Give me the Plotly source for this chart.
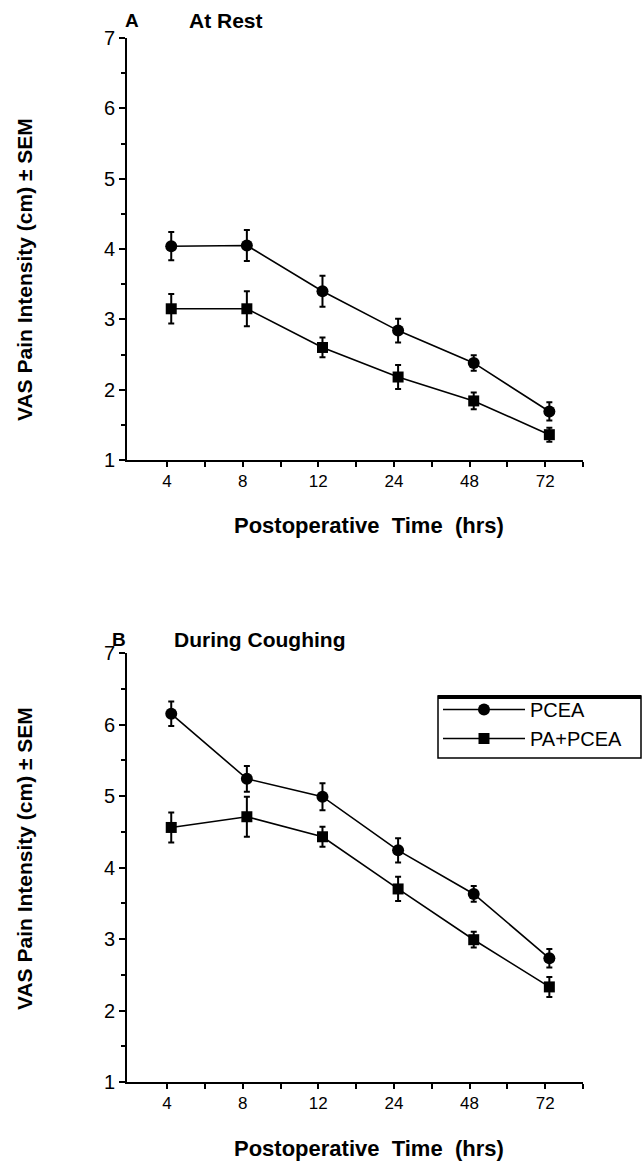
import plotly.graph_objects as go

# ---------------- data ----------------
categories = ["4", "8", "12", "24", "48", "72"]

rest_pcea = [4.04, 4.05, 3.40, 2.84, 2.38, 1.69]
rest_pcea_sem = [0.20, 0.22, 0.22, 0.17, 0.11, 0.13]
rest_pa = [3.15, 3.15, 2.60, 2.18, 1.84, 1.36]
rest_pa_sem = [0.21, 0.25, 0.14, 0.17, 0.12, 0.10]

cough_pcea = [6.15, 5.24, 4.99, 4.24, 3.63, 2.73]
cough_pcea_sem = [0.17, 0.18, 0.19, 0.17, 0.11, 0.13]
cough_pa = [4.56, 4.71, 4.43, 3.70, 2.99, 2.33]
cough_pa_sem = [0.21, 0.28, 0.14, 0.17, 0.11, 0.14]

y_ticks = [1, 2, 3, 4, 5, 6, 7]

# ---------------- layout geometry ----------------
W, H = 642, 1161
ML, MR, MT, MB = 127, 59, 38, 79
PW = W - ML - MR
PH = H - MT - MB


def px_x(px):
    return (px - ML) / PW


def px_y(py):
    return (H - MB - py) / PH


FONT = "Liberation Sans, Arial, Helvetica, sans-serif"
xpos = list(range(len(categories)))
tick_shift = -0.055

fig = go.Figure()


def add_series(y, err, symbol, size, name, xa, ya, show):
    fig.add_trace(go.Scatter(
        x=xpos, y=y, mode="lines+markers", name=name,
        xaxis=xa, yaxis=ya, showlegend=show,
        line=dict(color="black", width=1.6),
        marker=dict(symbol=symbol, size=size, color="black"),
        error_y=dict(type="data", array=err, visible=True,
                     color="black", thickness=2, width=3),
    ))


add_series(rest_pcea, rest_pcea_sem, "circle", 12, "PCEA", "x", "y", False)
add_series(rest_pa, rest_pa_sem, "square", 11, "PA+PCEA", "x", "y", False)
add_series(cough_pcea, cough_pcea_sem, "circle", 12, "PCEA", "x2", "y2", True)
add_series(cough_pa, cough_pa_sem, "square", 11, "PA+PCEA", "x2", "y2", True)

xaxis_common = dict(
    range=[-0.585, 5.445],
    tickmode="array",
    tickvals=[i + tick_shift for i in xpos],
    ticktext=categories,
    ticks="outside", ticklen=5, tickwidth=1.5, tickcolor="black",
    minor=dict(tickmode="array",
               tickvals=[i + 0.5 + tick_shift for i in xpos],
               ticks="outside", ticklen=5, tickwidth=1.5, tickcolor="black"),
    showline=True, linecolor="black", linewidth=2,
    showgrid=False, zeroline=False,
    tickfont=dict(family=FONT, size=17, color="black"),
    domain=[0, 1],
)
yaxis_common = dict(
    range=[1, 7],
    tickmode="array", tickvals=y_ticks,
    ticks="outside", ticklen=6, tickwidth=1.5, tickcolor="black",
    minor=dict(dtick=0.5, tick0=1, ticks="outside", ticklen=4,
               tickwidth=1.5, tickcolor="black"),
    showline=True, linecolor="black", linewidth=2,
    showgrid=False, zeroline=False,
    tickfont=dict(family=FONT, size=20, color="black"),
)

top_domain = [px_y(460), px_y(38)]
bot_domain = [px_y(1082), px_y(653)]

fig.update_layout(
    width=W, height=H,
    margin=dict(l=ML, r=MR, t=MT, b=MB, pad=0),
    paper_bgcolor="white", plot_bgcolor="white",
    xaxis=dict(xaxis_common, anchor="y"),
    yaxis=dict(yaxis_common, anchor="x", domain=top_domain),
    xaxis2=dict(xaxis_common, anchor="y2"),
    yaxis2=dict(yaxis_common, anchor="x2", domain=bot_domain),
    legend=dict(
        x=px_x(438), y=px_y(690), xanchor="left", yanchor="top",
        borderwidth=0, bgcolor="rgba(0,0,0,0)",
        font=dict(family=FONT, size=20, color="black"),
        tracegroupgap=0, itemwidth=82,
    ),
    showlegend=True,
)

ann = []


def text(x, y, s, size, xanchor="center", angle=0):
    ann.append(dict(
        x=px_x(x), y=px_y(y), xref="paper", yref="paper",
        text=s, showarrow=False, xanchor=xanchor, yanchor="middle",
        textangle=angle, font=dict(family=FONT, size=size, color="black"),
    ))


text(132, 21, "<b>A</b>", 19)
text(187, 21, "<b>At Rest</b>", 21, xanchor="left")
text(119, 639, "<b>B</b>", 19)
text(172, 639, "<b>During Coughing</b>", 21, xanchor="left")
text(369, 525, "<b>Postoperative  Time  (hrs)</b>", 22)
text(369, 1148, "<b>Postoperative  Time  (hrs)</b>", 22)
text(24, 270, "<b>VAS Pain Intensity (cm) ± SEM</b>", 21, angle=-90)
text(24, 859, "<b>VAS Pain Intensity (cm) ± SEM</b>", 21, angle=-90)
fig.update_layout(annotations=ann)

# legend frame: thin box with heavy top edge
fig.add_shape(type="rect", xref="paper", yref="paper",
              x0=px_x(438), x1=px_x(641), y0=px_y(758), y1=px_y(696),
              line=dict(color="black", width=1.5), layer="below")
fig.add_shape(type="line", xref="paper", yref="paper",
              x0=px_x(438), x1=px_x(641), y0=px_y(697), y1=px_y(697),
              line=dict(color="black", width=4))

fig.write_html("out.html")
